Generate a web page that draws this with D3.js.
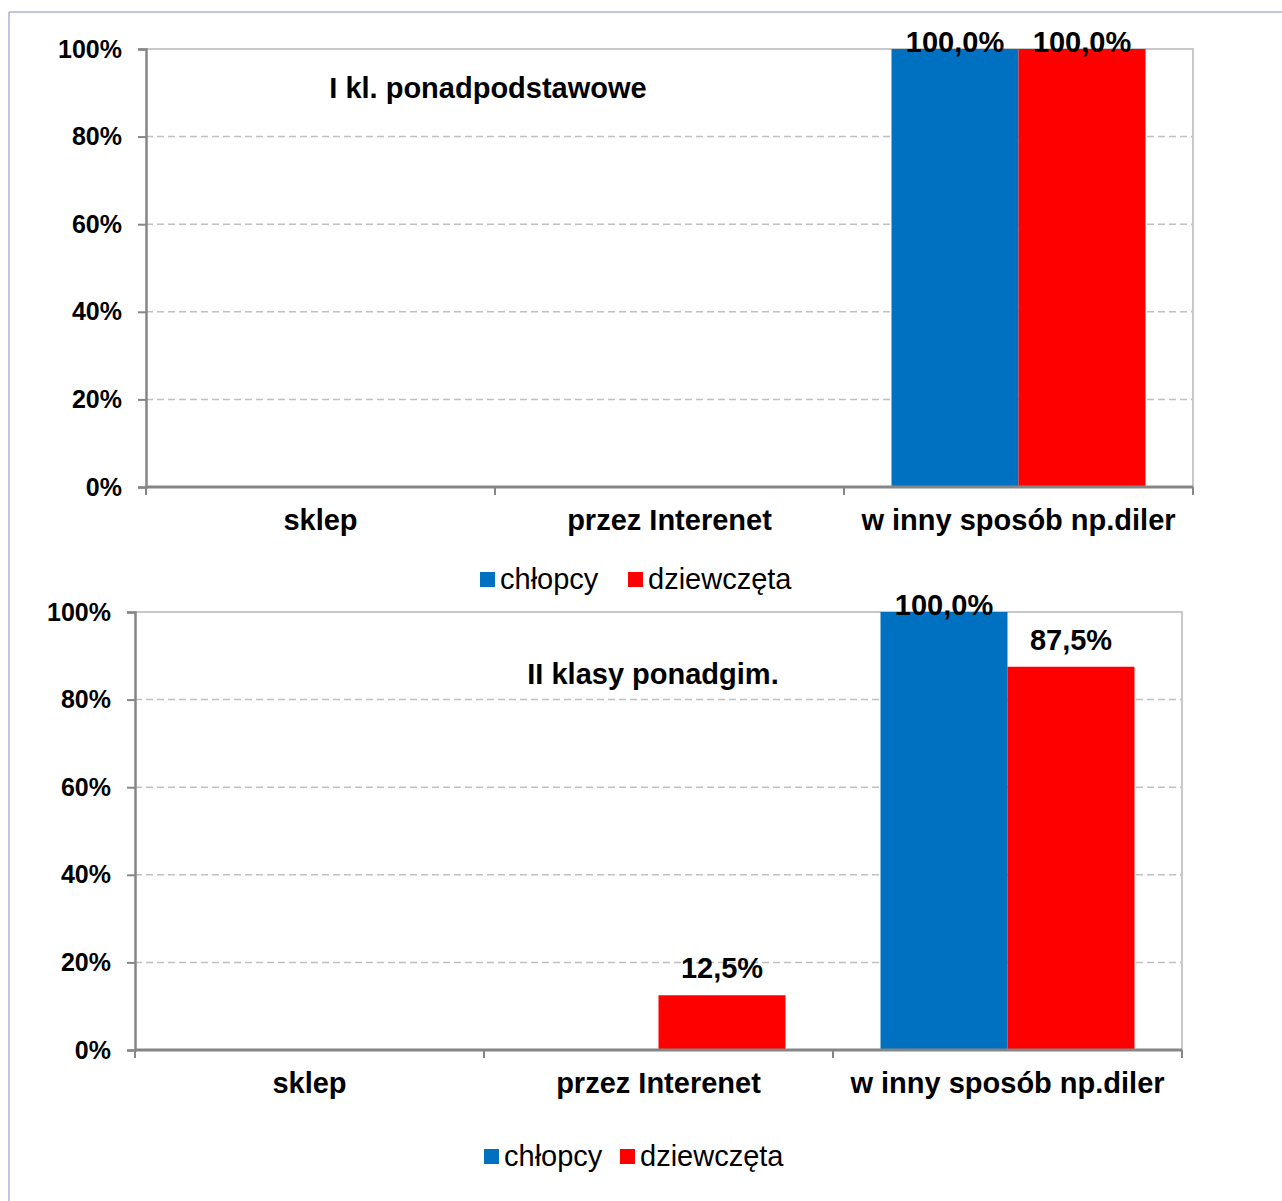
<!DOCTYPE html>
<html>
<head>
<meta charset="utf-8">
<script src="https://cdn.jsdelivr.net/npm/d3@7"></script>
<style>
    body { margin: 0; background: #fff; }
    svg { display: block; font-family: "Liberation Sans", Arial, sans-serif; }
</style>
</head>
<body>
<svg id="chart_svg" width="1282" height="1201"></svg>
<script>
// Data
const categories = ["sklep", "przez Interenet", "w inny sposób np.diler"];
const seriesNames = ["chłopcy", "dziewczęta"];
const seriesColors = ["#0070C0", "#FF0000"];
const yTicks = [0, 20, 40, 60, 80, 100];

const titleTop = "I kl. ponadpodstawowe";
const boysTop = [0, 0, 100];
const girlsTop = [0, 0, 100];

const titleBottom = "II klasy ponadgim.";
const boysBottom = [0, 0, 100];
const girlsBottom = [0, 12.5, 87.5];

let svg = d3.select("#chart_svg");

// outer frame (only top + left edges visible)
svg.append("line").attr("x1", 9).attr("y1", 12).attr("x2", 1282).attr("y2", 12)
    .attr("stroke", "#8888cc").attr("stroke-width", 1);
svg.append("line").attr("x1", 9).attr("y1", 12).attr("x2", 9).attr("y2", 1201)
    .attr("stroke", "#8888cc").attr("stroke-width", 1);

drawChart({left: 146, top: 49, width: 1047, height: 438, title: titleTop, titleX: 488, titleY: 98,
    values: [boysTop, girlsTop], legendY: 580, legendX: [480, 628]});
drawChart({left: 135, top: 612, width: 1047, height: 438, title: titleBottom, titleX: 653, titleY: 684,
    values: [boysBottom, girlsBottom], legendY: 1157, legendX: [484, 620]});

function drawChart(opt) {
    let g = svg.append("g").attr("transform", "translate(" + opt.left + "," + opt.top + ")");
    let w = opt.width, h = opt.height;

    let y = d3.scaleLinear().domain([0, 100]).range([h, 0]);
    let x0 = d3.scaleBand().domain(categories).range([0, w]).padding(0);
    let x1 = d3.scaleBand().domain(seriesNames).range([0, x0.bandwidth()])
        .paddingInner(0).paddingOuter(0.374);

    // gridlines
    g.append("g").selectAll("line")
        .data(yTicks.filter(d => d > 0 && d < 100))
        .enter().append("line")
        .attr("x1", 0).attr("x2", w)
        .attr("y1", d => y(d)).attr("y2", d => y(d))
        .attr("stroke", "#c0c0c0").attr("stroke-width", 1.5)
        .attr("stroke-dasharray", "7,4");

    // plot area top / right border
    g.append("path")
        .attr("d", "M0," + y(100) + "H" + w + "V" + h)
        .attr("fill", "none").attr("stroke", "#c8c8c8").attr("stroke-width", 2);

    // bars
    opt.values.forEach(function (vals, si) {
        let name = seriesNames[si];
        let data = categories.map((c, i) => ({cat: c, v: vals[i]})).filter(d => d.v > 0);
        g.append("g").selectAll("rect")
            .data(data)
            .enter().append("rect")
            .attr("x", d => x0(d.cat) + x1(name))
            .attr("y", d => y(d.v))
            .attr("width", x1.bandwidth())
            .attr("height", d => h - y(d.v))
            .attr("fill", seriesColors[si]);

        g.append("g").selectAll("text")
            .data(data)
            .enter().append("text")
            .attr("x", d => x0(d.cat) + x1(name) + x1.bandwidth() / 2)
            .attr("y", d => Math.max(y(d.v) - 17, y(100) + 3))
            .attr("text-anchor", "middle")
            .attr("font-size", 29).attr("font-weight", "bold").attr("fill", "#000")
            .text(d => d3.format(".1f")(d.v).replace(".", ",") + "%");
    });

    // y axis
    let yAxis = d3.axisLeft(y).tickValues(yTicks).tickSize(8).tickPadding(16)
        .tickFormat(d => d + "%");
    let ya = g.append("g").call(yAxis);
    ya.select(".domain").attr("stroke", "#868686").attr("stroke-width", 2.5);
    ya.selectAll(".tick line").attr("stroke", "#868686").attr("stroke-width", 2);
    ya.selectAll(".tick text").attr("font-size", 25).attr("font-weight", "bold")
        .attr("fill", "#000").attr("font-family", "Liberation Sans, Arial, sans-serif")
        .attr("dy", "0.32em");

    // x axis
    let xa = g.append("g").attr("transform", "translate(0," + h + ")");
    xa.append("line").attr("x1", 0).attr("x2", w).attr("y1", 0).attr("y2", 0)
        .attr("stroke", "#868686").attr("stroke-width", 3);
    let bounds = categories.map(c => x0(c)).concat([w]);
    xa.selectAll("line.tk").data(bounds).enter().append("line").attr("class", "tk")
        .attr("x1", d => d).attr("x2", d => d).attr("y1", 0).attr("y2", 8)
        .attr("stroke", "#868686").attr("stroke-width", 2);
    xa.selectAll("text").data(categories).enter().append("text")
        .attr("x", d => x0(d) + x0.bandwidth() / 2)
        .attr("y", 43)
        .attr("text-anchor", "middle")
        .attr("font-size", 29).attr("font-weight", "bold")
        .text(d => d);

    // title
    svg.append("text")
        .attr("x", opt.titleX).attr("y", opt.titleY)
        .attr("text-anchor", "middle")
        .attr("font-size", 29).attr("font-weight", "bold")
        .text(opt.title);

    // legend
    let lg = svg.append("g");
    seriesNames.forEach(function (name, i) {
        lg.append("rect")
            .attr("x", opt.legendX[i]).attr("y", opt.legendY - 8)
            .attr("width", 15).attr("height", 15)
            .attr("fill", seriesColors[i]);
        lg.append("text")
            .attr("x", opt.legendX[i] + 20).attr("y", opt.legendY + 9)
            .attr("font-size", 29)
            .text(name);
    });
}
</script>
</body>
</html>
